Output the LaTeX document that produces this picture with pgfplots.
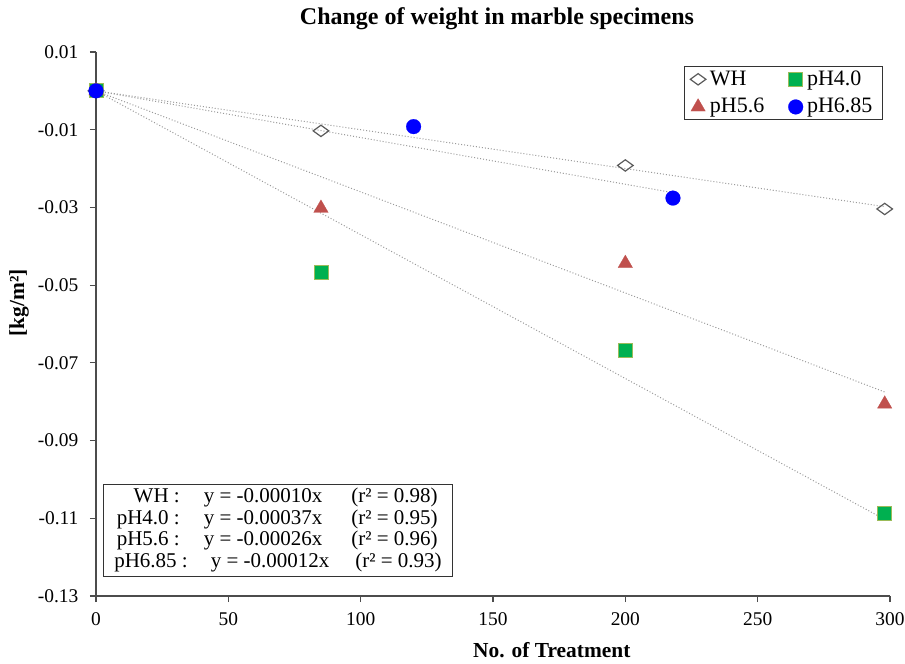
\documentclass[border=0pt]{standalone}
\usepackage{fontspec}
\setmainfont{Liberation Serif}
\usepackage{pgfplots}
\pgfplotsset{compat=1.18}

\definecolor{whgray}{HTML}{5A5A5A}
\definecolor{grn}{HTML}{00B050}
\definecolor{grnedge}{HTML}{9BBB59}
\definecolor{redtri}{HTML}{C0504D}
\definecolor{bluedot}{HTML}{0000FF}
\definecolor{trend}{HTML}{9A9A9A}

\begin{document}
\begin{tikzpicture}
\useasboundingbox (-48pt,-34pt) rectangle (404.5pt,298pt);
\begin{axis}[scale only axis,width=397pt,height=272pt,at={(0,0)},anchor=south west,
  xmin=0,xmax=300,ymin=-0.13,ymax=0.01,clip=false,
  axis x line*=bottom,axis y line*=left,
  axis line style={black!70,-,line width=0.6pt},
  xtick={0,50,100,150,200,250,300},
  xticklabels={0,50,100,150,200,250,300},
  ytick={-0.13,-0.11,-0.09,-0.07,-0.05,-0.03,-0.01,0.01},
  yticklabels={-0.13,-0.11,-0.09,-0.07,-0.05,-0.03,-0.01,0.01},
  tick align=outside,major tick length=3pt,
  tick style={black!70,line width=0.6pt},
  ticklabel style={font=\fontsize{9.7}{11}\selectfont},
  yticklabel style={xshift=-2.3pt},
  xticklabel style={yshift=-2pt},
  legend columns=2,
  legend style={at={(1,1)},anchor=north east,xshift=-3.5pt,yshift=-7pt,
    draw=black!80,line width=0.5pt,font=\fontsize{11}{12}\selectfont,
    row sep=1pt,inner xsep=3pt,inner ysep=0pt,
    /tikz/every even column/.append style={column sep=10pt}},
  legend cell align=left,
]
% trendlines (through the origin)
\addplot[forget plot,trend,densely dotted,line width=0.5pt] coordinates {(0,0) (298,-0.0298)};
\addplot[forget plot,trend,densely dotted,line width=0.5pt] coordinates {(0,0) (298,-0.1103)};
\addplot[forget plot,trend,densely dotted,line width=0.5pt] coordinates {(0,0) (298,-0.0775)};
\addplot[forget plot,trend,densely dotted,line width=0.5pt] coordinates {(0,0) (218,-0.0262)};

\addplot[only marks,mark=diamond,mark size=5.2pt,
  mark options={draw=whgray,fill=white,line width=0.6pt,yscale=0.545}]
  coordinates {(0,0) (85,-0.0103) (200,-0.0192) (298,-0.0304)};
\addlegendentry{WH}
\addplot[only marks,mark=square*,mark size=3.5pt,
  mark options={draw=grnedge,fill=grn,line width=0.4pt}]
  coordinates {(0,0) (85,-0.0468) (200,-0.0669) (298,-0.1087)};
\addlegendentry{pH4.0}
\addplot[only marks,mark=triangle*,mark size=4.2pt,
  mark options={draw=redtri,fill=redtri,line width=0.1pt}]
  coordinates {(0,0) (85,-0.0302) (200,-0.0444) (298,-0.0806)};
\addlegendentry{pH5.6}
\addplot[only marks,mark=*,mark size=3.7pt,
  mark options={draw=bluedot,fill=bluedot,line width=0.1pt}]
  coordinates {(0,0) (120,-0.0092) (218,-0.0276)};
\addlegendentry{pH6.85}

\node[font=\bfseries\fontsize{12}{14}\selectfont] at (rel axis cs:0.505,1) [yshift=16.5pt] {Change of weight in marble specimens};
\node[font=\bfseries\fontsize{10.7}{12}\selectfont] at (rel axis cs:0.574,0) [yshift=-27pt] {No. of Treatment};
\node[font=\bfseries\fontsize{10.7}{12}\selectfont,xshift=-38.5pt,rotate=90] at (rel axis cs:0,0.539) {[kg/m²]};

\node[draw=black!80,line width=0.5pt,fill=white,anchor=south west,inner xsep=0pt,inner ysep=1.5pt,
  minimum width=174.5pt,minimum height=46pt]
  at (rel axis cs:0,0) [xshift=3.5pt,yshift=9.5pt] {%
  \fontsize{10.5}{10.75}\selectfont\setlength\tabcolsep{3pt}%
  \begin{tabular}{r@{\hspace{12pt}}l@{\hspace{11pt}}l}
  WH :  & y = -0.00010x & (r² = 0.98)\\
  pH4.0 : & y = -0.00037x & (r² = 0.95)\\
  pH5.6 : & y = -0.00026x & (r² = 0.96)\\
  pH6.85 :\hspace{-4pt} & \hspace{3.5pt}y = -0.00012x & \hspace{2pt}(r² = 0.93)
  \end{tabular}};
\end{axis}
\end{tikzpicture}
\end{document}
